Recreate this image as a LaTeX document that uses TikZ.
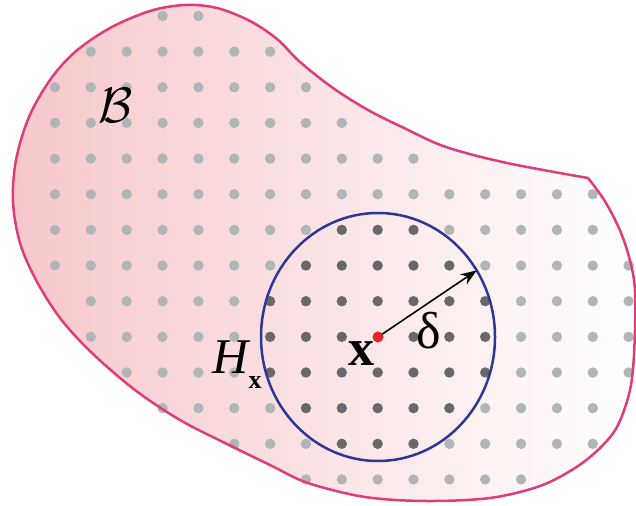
\documentclass[tikz,border=0pt]{standalone}
\usepackage{fontspec}
\usetikzlibrary{shapes.geometric,arrows.meta}
\newfontfamily\lib{Liberation Serif}
\definecolor{blobpink}{RGB}{247,200,203}
\definecolor{blobline}{RGB}{222,60,122}
\definecolor{circblue}{RGB}{45,55,150}
\definecolor{lightdot}{RGB}{176,181,181}
\definecolor{darkdot}{RGB}{104,104,104}
\definecolor{reddot}{RGB}{225,40,40}
\newcommand\myblob{plot[smooth,tension=0.55] coordinates{
(588,178) (507,163) (446,147) (404,128) (368,110) (333,88) (300,62) (277,39) (250,21) (217,8) (185,5) (150,11) (110,28) (75,52) (50,80) (29,117) (16,160) (13,202) (20,243) (36,280) (60,318) (92,353) (135,390) (180,420) (227,444) (270,465) (308,483) (365,497) (426,501) (490,498) (540,486) (575,468) (600,448) (618,425) (631,385) (635,330) (634,280) (623,238) (606,203) (588,178)}}
\tikzset{
  dotlight/.style={fill=lightdot},
  dotdark/.style={fill=darkdot},
  lbl/.style={inner sep=0pt, text=black}
}
\begin{document}
\begin{tikzpicture}[x=0.5pt,y=-0.5pt]
\useasboundingbox (0,0) rectangle (636,506);
% blob fill
\shade[left color=blobpink, right color=white] \myblob -- cycle;
% dots
\foreach \j/\a/\b in {0/3/4,1/1/6,2/0/7,3/0/8,4/0/10,5/0/15,6/0/15,7/0/16,8/1/16,9/1/16,10/2/16,11/3/15,12/5/15,13/7/13}{
  \foreach \i in {\a,...,\b}{
    \pgfmathsetmacro\px{55+35.85*\i}
    \pgfmathsetmacro\py{16+35.65*\j}
    \pgfmathsetmacro\dd{((\px-378)/117)^2+((\py-337)/124)^2}
    \pgfmathtruncatemacro\isc{and(\i==9,\j==9)}
    \ifnum\isc=0
      \ifdim\dd pt<1pt
        \fill[dotdark] (\px,\py) circle[radius=2.6pt];
      \else
        \fill[dotlight] (\px,\py) circle[radius=2.6pt];
      \fi
    \fi
  }
}
% blob border
\draw[blobline, line width=1.25pt] \myblob -- cycle;
% neighbourhood
\coordinate (c) at (378,337);
\node[ellipse, draw=circblue, line width=1.25pt, minimum width=117pt, minimum height=124pt, inner sep=0pt, outer sep=0pt] (H) at (c) {};
\draw[-{Stealth[length=8pt,width=6pt]}, line width=0.8pt] (c) -- (H.34);
\node[circle, fill=reddot, inner sep=0pt, minimum size=5.5pt] (cdot) at (c) {};
% labels
\node[lbl] (Bl) at (116,106) {\fontsize{26}{30}\selectfont$\mathcal{B}$};
\node[lbl] (Hl) at (237,365) {\lib\fontsize{25}{28}\selectfont\itshape H\raisebox{-0.3em}{\upshape\bfseries\fontsize{13}{14}\selectfont x}};
\node[lbl] (xl) at (361,354) {\lib\bfseries\fontsize{26}{28}\selectfont x};
\node[lbl] (dl) at (429,331) {\lib\fontsize{26}{30}\selectfont δ};
\end{tikzpicture}
\end{document}
